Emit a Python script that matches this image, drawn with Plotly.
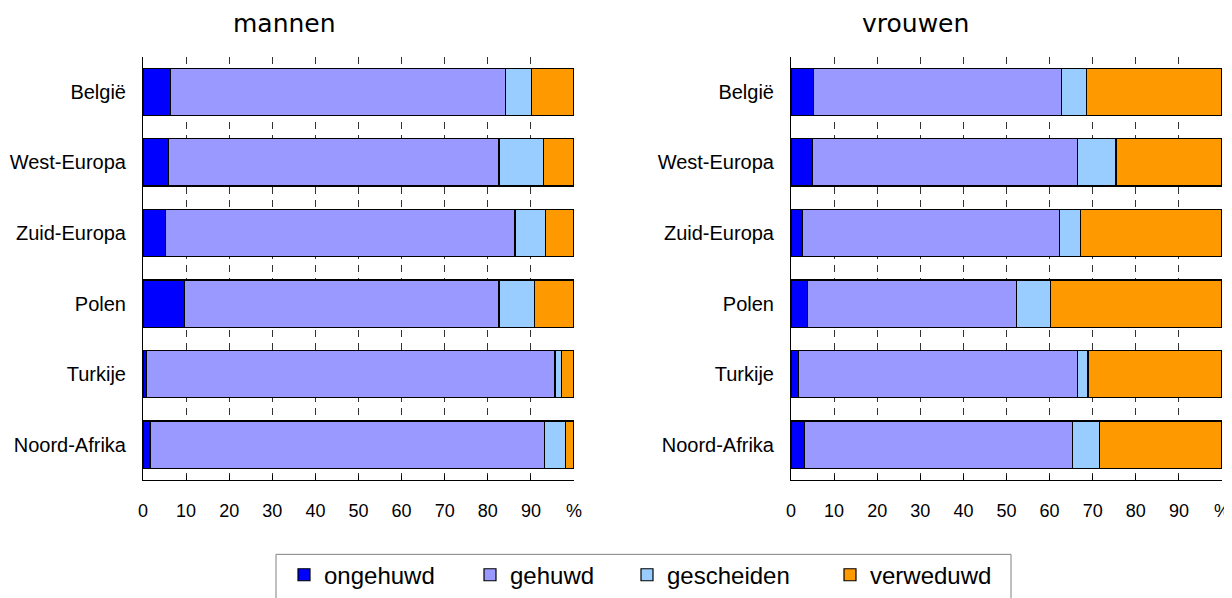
import plotly.graph_objects as go
from plotly.subplots import make_subplots

categories = ["België", "West-Europa", "Zuid-Europa", "Polen", "Turkije", "Noord-Afrika"]
series_names = ["ongehuwd", "gehuwd", "gescheiden", "verweduwd"]
colors = ["#0000FF", "#9999FF", "#99CCFF", "#FF9900"]

mannen_ongehuwd = [6.3, 5.9, 5.3, 9.6, 0.8, 1.6]
mannen_gehuwd = [77.8, 76.7, 81.0, 73.0, 94.8, 91.5]
mannen_gescheiden = [6.0, 10.4, 7.1, 8.3, 1.5, 5.0]
mannen_verweduwd = [9.9, 7.0, 6.6, 9.1, 2.9, 1.9]

vrouwen_ongehuwd = [5.3, 4.9, 2.7, 3.9, 1.7, 3.1]
vrouwen_gehuwd = [57.5, 61.5, 59.6, 48.4, 64.7, 62.2]
vrouwen_gescheiden = [5.7, 9.0, 4.8, 7.9, 2.5, 6.2]
vrouwen_verweduwd = [31.5, 24.6, 32.9, 39.8, 31.1, 28.5]

tick_vals = [0, 10, 20, 30, 40, 50, 60, 70, 80, 90, 100]
tick_text = ["0", "10", "20", "30", "40", "50", "60", "70", "80", "90", "%"]

panel_titles = ["mannen", "vrouwen"]

mannen = [mannen_ongehuwd, mannen_gehuwd, mannen_gescheiden, mannen_verweduwd]
vrouwen = [vrouwen_ongehuwd, vrouwen_gehuwd, vrouwen_gescheiden, vrouwen_verweduwd]

# page body has an 8px margin; figure sized to fill the rest of the window
OFF = 8
FW, FH = 1232 - OFF, 598 - OFF


def px(sx):
    return (sx - OFF) / FW


def py(sy):
    return 1 - (sy - OFF) / FH


legend_ids = ["legend", "legend2", "legend3", "legend4"]
legend_item_x = [284, 470, 627, 830]

fig = make_subplots(rows=1, cols=2)

for col, data in ((1, mannen), (2, vrouwen)):
    for name, vals, c, lid in zip(series_names, data, colors, legend_ids):
        fig.add_trace(go.Bar(
            y=categories, x=vals, name=name, orientation="h",
            marker=dict(color=c, line=dict(color="#000000", width=1.2)),
            width=0.67, showlegend=(col == 1), legendgroup=name, legend=lid,
        ), row=1, col=col)

ydom = [py(484), py(57)]
fig.update_layout(
    barmode="stack",
    width=FW, height=FH,
    margin=dict(l=0, r=0, t=0, b=0),
    plot_bgcolor="white", paper_bgcolor="white",
    font=dict(family="Liberation Sans, Arial, sans-serif", size=18, color="#000"),
    xaxis=dict(domain=[px(143), px(574)]),
    xaxis2=dict(domain=[px(791), px(1222)]),
    yaxis=dict(domain=ydom),
    yaxis2=dict(domain=ydom),
)

for lid, lx in zip(legend_ids, legend_item_x):
    fig.update_layout({lid: dict(
        orientation="h", x=px(lx), xanchor="left", y=py(580), yanchor="middle",
        borderwidth=0, bgcolor="rgba(0,0,0,0)",
        font=dict(size=24, family="Liberation Sans, Arial, sans-serif", color="#000"),
    )})

# legend frame
fig.add_shape(type="rect", xref="paper", yref="paper",
              x0=px(276), x1=px(1011), y0=py(640), y1=py(559),
              line=dict(color="#808080", width=1), fillcolor="rgba(0,0,0,0)", layer="below")

for ax in ("xaxis", "xaxis2"):
    fig.layout[ax].update(
        range=[0, 100], tickvals=tick_vals, ticktext=tick_text,
        showline=True, linecolor="#000", linewidth=1,
        ticks="inside", ticklen=5, tickcolor="#000", tickwidth=1,
        showgrid=True, gridcolor="#333", gridwidth=1, griddash="7px,6px",
        zeroline=False, ticklabelstandoff=14, automargin=False,
        tickfont=dict(size=18),
    )
for ax in ("yaxis", "yaxis2"):
    fig.layout[ax].update(
        categoryorder="array", categoryarray=categories, autorange="reversed",
        showline=True, linecolor="#000", linewidth=1,
        ticks="", showgrid=False, zeroline=False, ticklabelstandoff=12,
        automargin=False, tickfont=dict(size=20),
    )

title_x = [284, 915]
for t, xc in zip(panel_titles, title_x):
    fig.add_annotation(
        text=t, x=px(xc), y=py(24), xref="paper", yref="paper",
        xanchor="center", yanchor="middle", showarrow=False,
        font=dict(family="DejaVu Sans, sans-serif", size=25, color="#000"),
    )

fig.write_html("out.html")
